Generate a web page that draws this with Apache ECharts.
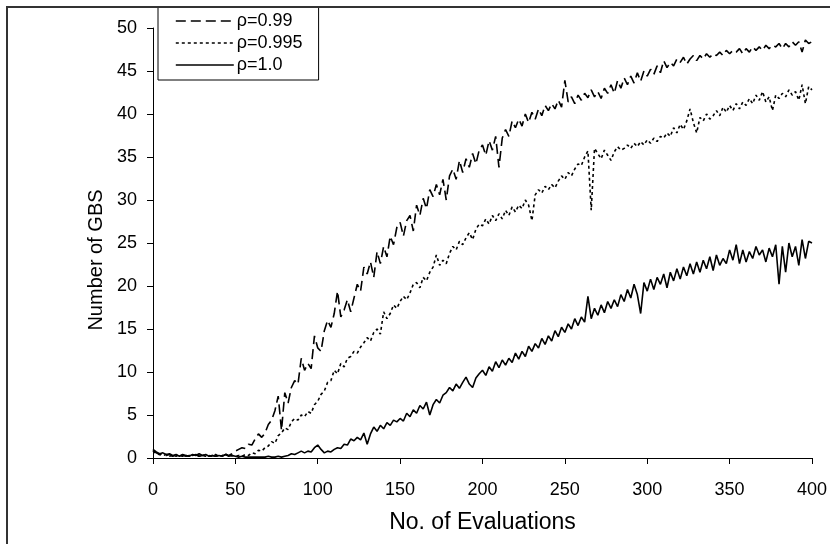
<!DOCTYPE html>
<html>
<head>
<meta charset="utf-8">
<script src="https://cdn.jsdelivr.net/npm/echarts@6/dist/echarts.min.js"></script>
<style>
html,body{margin:0;padding:0;background:#fff;}
#chart{width:830px;height:544px;}
</style>
</head>
<body>
<div id="chart"></div>
<script>
// Sampling step of the evaluation axis (values read every 2 evaluations, 0..400)
const STEP = 2;
const seriesNames = ['ρ=0.99', 'ρ=0.995', 'ρ=1.0'];
const xAxisTitle = 'No. of Evaluations';
const yAxisTitle = 'Number of GBS';

// ρ=0.99 (dashed)
const rho099 = [
  0.9, 0.6, 0.4, 0.5, 0.3,
  0.4, 0.2, 0.3, 0.2, 0.3,
  0.2, 0.3, 0.2, 0.4, 0.2,
  0.3, 0.4, 0.2, 0.3, 0.2,
  0.3, 0.2, 0.4, 0.3, 0.5,
  0.8, 1.0, 1.2, 1.1, 1.6,
  1.5, 2.2, 2.8, 2.4, 2.9,
  3.9, 4.4, 5.5, 7.2, 3.2,
  7.6, 6.4, 8.2, 9.0, 8.6,
  11.6, 10.2, 11.0, 10.4, 14.2,
  12.8, 12.4, 14.8, 16.0, 15.2,
  16.8, 19.4, 16.4, 17.2, 18.4,
  17.0, 18.6, 20.2, 19.4, 22.2,
  21.4, 22.8, 21.0, 24.0, 22.6,
  24.6, 23.4, 25.8, 24.8, 26.8,
  27.4, 25.8, 27.6, 28.2, 26.4,
  29.4, 28.2, 30.2, 29.0, 31.2,
  30.4, 31.8, 30.6, 32.4, 30.0,
  32.8, 33.6, 32.4, 34.6, 33.2,
  34.8, 33.8, 35.4, 34.2, 35.8,
  36.4, 35.2, 36.9, 35.8, 37.4,
  33.8, 37.2, 38.2, 37.4, 39.2,
  38.4, 39.4, 38.6, 40.0, 39.0,
  40.2, 39.4, 40.6, 39.8, 41.0,
  40.4, 41.2, 40.6, 41.6, 40.8,
  43.9, 41.4, 42.0, 41.2, 42.2,
  41.6, 42.4, 41.9, 42.8, 42.0,
  42.6, 41.8, 43.0, 42.4, 43.4,
  42.4, 43.9, 43.0, 44.2, 43.4,
  44.4, 43.6, 44.8, 43.8, 45.0,
  44.4, 45.2, 44.6, 45.6, 44.8,
  46.2, 45.4, 46.0, 45.6, 46.4,
  46.0, 46.6, 45.8, 46.4, 46.8,
  46.2, 46.8, 46.4, 47.0, 46.6,
  47.0, 46.8, 47.2, 46.8, 47.4,
  47.0, 47.4, 47.2, 47.6, 47.0,
  47.6, 47.2, 47.8, 47.4, 47.8,
  47.4, 48.0, 47.6, 48.0, 47.8,
  48.2, 47.6, 48.2, 47.8, 48.4,
  48.0, 48.4, 47.2, 48.6, 48.2,
  48.4
];

// ρ=0.995 (dotted)
const rho0995 = [
  0.8, 0.5, 0.4, 0.3, 0.4,
  0.2, 0.3, 0.2, 0.4, 0.2,
  0.3, 0.2, 0.3, 0.4, 0.2,
  0.3, 0.2, 0.3, 0.2, 0.4,
  0.2, 0.3, 0.5, 0.2, 0.3,
  0.2, 0.3, 0.2, 0.4, 0.3,
  0.6, 0.5, 0.9, 0.8, 1.2,
  1.4, 1.9, 1.7, 2.6, 2.9,
  3.5, 3.3, 4.2, 4.6, 4.4,
  5.0, 4.8, 5.4, 5.2, 6.2,
  6.6, 7.4, 7.8, 8.8, 9.0,
  10.2, 9.8, 11.0, 10.6, 11.6,
  11.8, 12.4, 12.2, 12.9, 13.4,
  14.0, 13.6, 14.6, 15.0, 14.4,
  17.0, 16.2, 16.8, 17.8, 17.4,
  18.2, 18.8, 18.4, 19.2, 20.2,
  20.4, 19.8, 21.0, 20.6, 21.6,
  22.2, 23.6, 22.4, 23.0, 22.6,
  23.8, 24.6, 24.2, 25.2, 24.8,
  25.6, 26.2, 25.4, 26.6, 27.2,
  27.0, 27.8, 27.2, 28.2, 27.6,
  28.4, 27.8, 28.8, 28.2, 29.2,
  28.6, 29.4, 29.0, 30.0, 29.4,
  27.6, 30.6, 31.2, 30.8, 31.6,
  31.2, 31.8, 31.4, 32.2, 32.8,
  32.4, 33.2, 32.8, 33.6, 34.2,
  34.0, 35.0, 35.7, 28.8, 36.0,
  35.4, 34.8, 35.8, 35.2, 34.6,
  35.6, 36.2, 35.8, 36.0, 36.4,
  36.0, 36.6, 36.2, 36.8, 36.4,
  37.0, 36.6, 37.2, 36.8, 37.4,
  37.2, 37.8, 37.4, 38.4, 37.8,
  38.8, 38.2, 39.2, 40.6, 39.0,
  37.8, 39.6, 39.2, 40.0, 39.4,
  39.8, 40.4, 39.8, 40.8, 40.2,
  41.0, 40.4, 41.2, 40.6, 41.4,
  41.0, 41.8, 41.2, 42.2, 41.6,
  42.6, 41.4, 42.0, 40.4, 42.2,
  41.8, 42.4, 42.0, 42.8, 42.2,
  42.6, 41.6, 43.4, 41.2, 43.2,
  42.8
];

// ρ=1.0 (solid)
const rho10 = [
  1.0, 0.7, 0.5, 0.6, 0.4,
  0.5, 0.3, 0.4, 0.2, 0.4,
  0.3, 0.2, 0.4, 0.3, 0.5,
  0.3, 0.4, 0.2, 0.3, 0.2,
  0.3, 0.2, 0.4, 0.2, 0.3,
  0.2, 0.1, 0.2, 0.1, 0.1,
  0.1, 0.1, 0.1, 0.1, 0.1,
  0.2, 0.1, 0.1, 0.2, 0.1,
  0.2, 0.3, 0.5, 0.4, 0.6,
  0.8, 0.6, 0.8, 0.7, 1.2,
  1.5, 1.0, 0.6, 0.8, 0.7,
  1.0, 1.2, 1.1, 1.6, 1.5,
  2.2, 2.0, 2.4, 2.1, 2.9,
  1.6, 2.8, 3.6, 3.1, 3.8,
  3.4, 4.1, 3.8, 4.4, 4.2,
  4.6, 4.3, 5.2, 4.8, 5.6,
  5.2, 6.1, 5.7, 6.5, 5.0,
  6.2, 6.8, 6.4, 7.3, 7.6,
  8.2, 7.8, 8.6, 8.1, 8.8,
  9.4, 8.6, 8.2, 9.3, 9.8,
  10.2, 9.6, 10.6, 10.1, 11.2,
  10.5, 11.4, 10.8, 11.6, 11.1,
  12.2, 11.5, 12.4, 11.8, 13.0,
  12.4, 13.3, 12.8, 13.9, 13.2,
  14.2, 13.6, 14.8, 14.1, 15.2,
  14.6, 15.6, 15.0, 16.2, 15.4,
  16.4, 15.8, 18.8, 16.2, 17.4,
  16.6, 17.8, 16.9, 18.2, 17.4,
  18.4, 17.6, 19.0, 18.2, 19.6,
  18.6, 20.2, 19.0, 16.8, 20.4,
  19.4, 20.8, 19.6, 21.0, 20.2,
  21.4, 19.8, 21.6, 20.6, 22.0,
  20.8, 22.2, 21.2, 22.6, 21.4,
  22.8, 21.6, 23.0, 22.0, 23.4,
  21.8, 23.6, 22.4, 23.2, 22.6,
  24.2, 23.0, 24.8, 22.6, 24.2,
  22.8, 24.0, 23.2, 24.6, 23.6,
  24.2, 22.8, 24.4, 23.4, 24.8,
  20.2, 24.6, 21.6, 25.0, 23.4,
  24.6, 22.4, 25.4, 23.2, 25.2,
  25.0
];

const toPairs = arr => arr.map((v, i) => [i * STEP, v]);

const FONT = '"Liberation Sans", Arial, sans-serif';
const chart = echarts.init(document.getElementById('chart'), null, {renderer: 'canvas'});

const lineTypes = [[10, 5], [3, 3], 'solid'];
const dataSets = [rho099, rho0995, rho10];

chart.setOption({
  animation: false,
  backgroundColor: '#fff',
  textStyle: {fontFamily: FONT, color: '#000'},
  grid: {left: 153, right: 18, top: 28, bottom: 86, containLabel: false},
  legend: {
    orient: 'vertical',
    left: 158,
    top: 7,
    padding: [5, 16, 6, 17],
    itemWidth: 58,
    itemHeight: 14,
    itemGap: 4,
    borderColor: '#000',
    borderWidth: 1,
    backgroundColor: '#fff',
    itemStyle: {opacity: 0},
    lineStyle: {width: 1.6},
    textStyle: {fontFamily: FONT, fontSize: 18, color: '#000', padding: [0, 0, 0, -2]},
    data: seriesNames
  },
  xAxis: {
    type: 'value',
    min: 0, max: 400, interval: 50,
    name: xAxisTitle,
    nameLocation: 'middle',
    nameGap: 53,
    nameMoveOverlap: false,
    nameTextStyle: {fontFamily: FONT, fontSize: 23, color: '#000'},
    axisLine: {lineStyle: {color: '#000', width: 1}},
    axisTick: {show: true, inside: false, length: 6, lineStyle: {color: '#000'}},
    axisLabel: {fontFamily: FONT, fontSize: 18, color: '#000', margin: 23},
    splitLine: {show: false}
  },
  yAxis: {
    type: 'value',
    min: 0, max: 50, interval: 5,
    name: yAxisTitle,
    nameLocation: 'middle',
    nameGap: 47,
    nameMoveOverlap: false,
    nameTextStyle: {fontFamily: FONT, fontSize: 20, color: '#000', padding: [0, 34, 0, 0]},
    axisLine: {show: true, lineStyle: {color: '#000', width: 1}},
    axisTick: {show: true, inside: false, length: 6, lineStyle: {color: '#000'}},
    axisLabel: {fontFamily: FONT, fontSize: 18, color: '#000', margin: 16},
    splitLine: {show: false}
  },
  series: seriesNames.map((name, k) => ({
    name: name,
    type: 'line',
    data: toPairs(dataSets[k]),
    symbol: 'none',
    showSymbol: false,
    smooth: false,
    lineStyle: {color: '#000', width: 1.6, type: lineTypes[k]},
    itemStyle: {color: '#000'},
    z: 2
  })),
  graphic: [{
    type: 'polyline',
    z: 100,
    silent: true,
    shape: {points: [[7, 544], [7, 7], [830, 7]]},
    style: {stroke: '#333', lineWidth: 2, fill: null}
  }]
});
</script>
</body>
</html>
